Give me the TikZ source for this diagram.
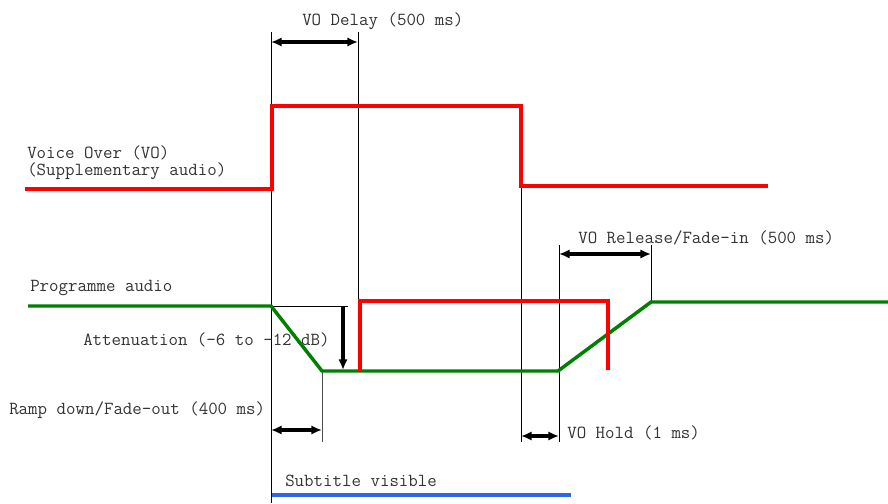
\documentclass[tikz,border=0pt]{standalone}
\usetikzlibrary{arrows.meta}
\definecolor{progGreen}{RGB}{0,128,0}
\definecolor{subBlue}{RGB}{45,100,235}

\begin{document}
\begin{tikzpicture}[x=0.75pt, y=-0.75pt,
  lbl/.style={font=\ttfamily\fontsize{13.8}{12.8}\selectfont, text=black!80, inner sep=0pt, anchor=west, align=left},
  guide/.style={draw=black, line width=0.75pt},
  span/.style={{Latex[length=8pt,width=7pt]}-{Latex[length=8pt,width=7pt]}, line width=2.4pt},
  vo/.style={red, line width=2.6pt},
  prog/.style={progGreen, line width=2.6pt}]
\useasboundingbox (0,0) rectangle (888,503);

% Guide lines
\coordinate (t0top) at (271,32);
\coordinate (t0bot) at (271,503);
\coordinate (t1top) at (358,32);
\coordinate (t1bot) at (358,299);
\coordinate (t2top) at (322,371);
\coordinate (t2bot) at (322,442);
\coordinate (t3top) at (521,186);
\coordinate (t3bot) at (521,442);
\coordinate (t4top) at (559,245);
\coordinate (t4bot) at (559,442);
\coordinate (t5top) at (651,245);
\coordinate (t5bot) at (651,302);
\coordinate (refl) at (271,306);
\coordinate (refr) at (348,306);
\draw[guide] (t0top) -- (t0bot);
\draw[guide] (t1top) -- (t1bot);
\draw[guide, draw=black!70] (t2top) -- (t2bot);
\draw[guide] (t3top) -- (t3bot);
\draw[guide] (t4top) -- (t4bot);
\draw[guide] (t5top) -- (t5bot);
\draw[guide] (refl) -- (refr);

% Voice over
\draw[vo] (25,189) -- (272,189) -- (272,106) -- (521,106) -- (521,186) -- (768,186);
\node[lbl] (volbl) at (27,163) {Voice Over (VO)\\(Supplementary audio)};

% Programme audio
\draw[prog] (28,306) -- (271,306) -- (322,371) -- (558,371) -- (651,302) -- (888,302);
\node[lbl] (proglbl) at (30,288) {Programme audio};

% Second VO pulse
\draw[vo] (360,371) -- (360,301) -- (608,301) -- (608,370);

% Spans
\coordinate (d0a) at (271,42);
\coordinate (d0b) at (358,42);
\draw[span] (d0a) -- (d0b);
\node[lbl] (delaylbl) at (302,21) {VO Delay (500 ms)};

\coordinate (attA) at (343,306);
\coordinate (attB) at (343,370);
\draw[-{Latex[length=8pt,width=7pt]}, line width=2.4pt] (attA) -- (attB);
\node[lbl] (attlbl) at (83,340) {Attenuation (-6 to -12 dB)};

\coordinate (d1a) at (271,430);
\coordinate (d1b) at (322,430);
\draw[span] (d1a) -- (d1b);
\node[lbl] (ramplbl) at (9,410) {Ramp down/Fade-out (400 ms)};

\coordinate (d2a) at (521,436);
\coordinate (d2b) at (559,436);
\draw[span] (d2a) -- (d2b);
\node[lbl] (holdlbl) at (567,433) {VO Hold (1 ms)};

\coordinate (d3a) at (559,254);
\coordinate (d3b) at (651,254);
\draw[span] (d3a) -- (d3b);
\node[lbl] (releaselbl) at (578,238) {VO Release/Fade-in (500 ms)};

% Subtitle
\draw[subBlue, line width=3pt] (272,495) -- (571,495);
\node[lbl] (sublbl) at (285,481) {Subtitle visible};

\end{tikzpicture}
\end{document}
